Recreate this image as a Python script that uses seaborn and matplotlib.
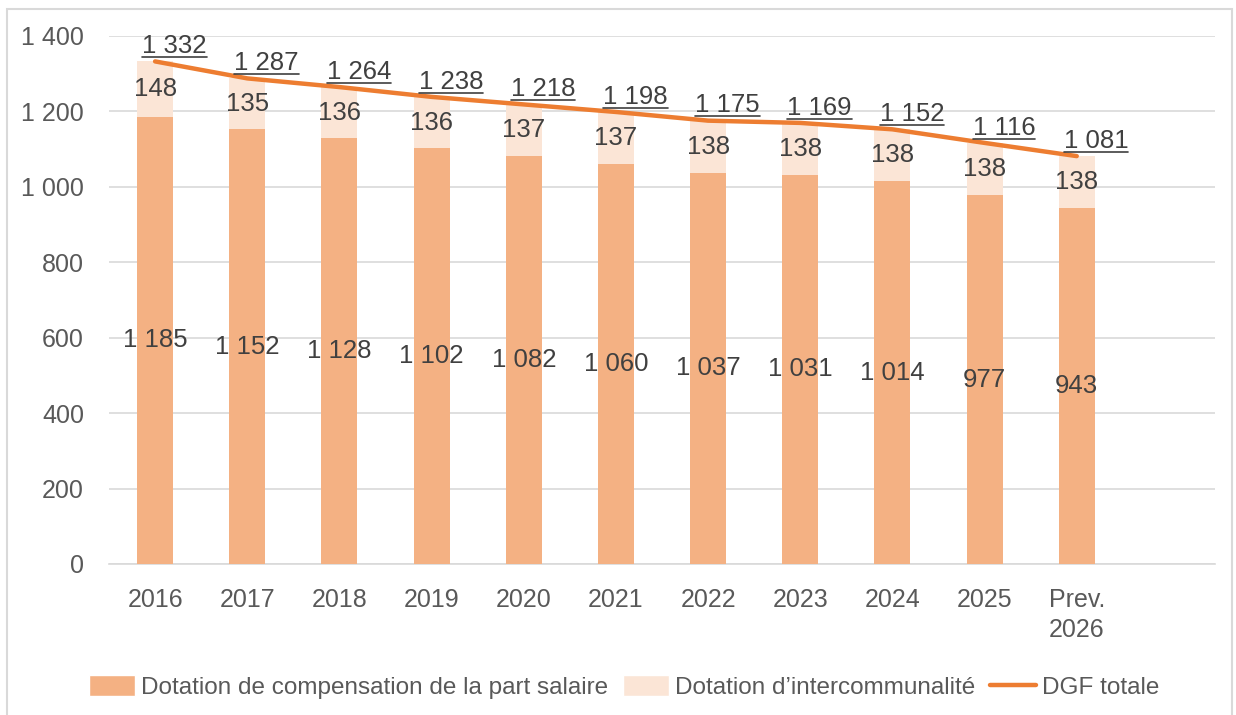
import seaborn as sns
import matplotlib.pyplot as plt
from matplotlib.patches import Patch, Rectangle
from matplotlib.lines import Line2D

# --- Données (millions d'euros) ---
annees = ["2016", "2017", "2018", "2019", "2020", "2021", "2022", "2023", "2024", "2025", "Prev.\n2026"]
part_salaire = [1185, 1152, 1128, 1102, 1082, 1060, 1037, 1031, 1014, 977, 943]
intercommunalite = [148, 135, 136, 136, 137, 137, 138, 138, 138, 138, 138]
dgf_totale = [1332, 1287, 1264, 1238, 1218, 1198, 1175, 1169, 1152, 1116, 1081]

c_salaire = "#F4B183"
c_inter = "#FBE5D6"
c_ligne = "#ED7D31"
c_texte = "#404040"
c_ticks = "#595959"

sns.set_style("white")
plt.rcParams["font.family"] = ["Liberation Sans", "DejaVu Sans"]


def fmt(v):
    return f"{v:,}".replace(",", " ")


fig = plt.figure(figsize=(12.36, 7.15), dpi=100)
ax = fig.add_axes([0.0882, 0.2112, 0.8948, 0.7388])

# barres empilées : d'abord la hauteur cumulée, puis la part salaire par-dessus
cumul = [a + b for a, b in zip(part_salaire, intercommunalite)]
sns.barplot(x=annees, y=cumul, color=c_inter, width=0.39, saturation=1, linewidth=0, ax=ax, zorder=2)
sns.barplot(x=annees, y=part_salaire, color=c_salaire, width=0.39, saturation=1, linewidth=0, ax=ax, zorder=3)
sns.lineplot(x=list(range(len(annees))), y=dgf_totale, color=c_ligne, linewidth=3.2,
             sort=False, ax=ax, zorder=4)

# étiquettes des segments
for i, (a, b) in enumerate(zip(part_salaire, intercommunalite)):
    ax.text(i, a / 2, fmt(a), ha="center", va="center", fontsize=18.5, color=c_texte, zorder=5)
    ax.text(i, a + b / 2, fmt(b), ha="center", va="center", fontsize=18.5, color=c_texte, zorder=5)

# étiquettes du total (soulignées ensuite)
totaux = []
for i, t in enumerate(dgf_totale):
    totaux.append(ax.annotate(fmt(t), (i, t), xytext=(14, 6), textcoords="offset points",
                              ha="center", va="baseline", fontsize=18.5, color=c_texte, zorder=5))

ax.set_xlim(-0.5, 11.5)
ax.set_ylim(0, 1400)
ax.set_yticks(range(0, 1401, 200))
ax.set_yticklabels([fmt(v) for v in range(0, 1401, 200)])
ax.yaxis.grid(True, color="#D9D9D9", linewidth=1.2, zorder=0)
ax.set_axisbelow(True)
for s in ["top", "right", "left"]:
    ax.spines[s].set_visible(False)
ax.spines["bottom"].set_color("#D9D9D9")
ax.spines["bottom"].set_linewidth(1.2)
ax.tick_params(axis="both", length=0, labelsize=18, labelcolor=c_ticks)
ax.tick_params(axis="y", pad=18)
ax.tick_params(axis="x", pad=17)
for t in ax.get_xticklabels():
    t.set_multialignment("left")
    t.set_linespacing(1.35)
ax.set_xlabel("")
ax.set_ylabel("")

handles = [
    Patch(facecolor=c_salaire, label="Dotation de compensation de la part salaire"),
    Patch(facecolor=c_inter, label="Dotation d\u2019intercommunalité"),
    Line2D([0], [0], color=c_ligne, linewidth=3.2, label="DGF totale"),
]
leg = fig.legend(handles=handles, loc="lower center", bbox_to_anchor=(0.505, -0.008), ncol=3,
                 frameon=False, handlelength=1.9, handleheight=0.9, handletextpad=0.25,
                 columnspacing=0.6, prop={"size": 17.5})
for t in leg.get_texts():
    t.set_color(c_ticks)

# soulignement des totaux
fig.canvas.draw()
inv = fig.transFigure.inverted()
for txt in totaux:
    bb = txt.get_window_extent()
    (x0, y0), (x1, _) = inv.transform([(bb.x0, bb.y0 + 1), (bb.x1, bb.y0 + 1)])
    fig.add_artist(Line2D([x0, x1], [y0, y0], color=c_texte, linewidth=1.2,
                          transform=fig.transFigure, zorder=6))

# cadre gris autour du graphique
fig.patches.append(Rectangle((0.006, -0.01), 0.991, 0.997, transform=fig.transFigure,
                             fill=False, edgecolor="#D9D9D9", linewidth=1.5))

fig.savefig("out.png", dpi=100)
